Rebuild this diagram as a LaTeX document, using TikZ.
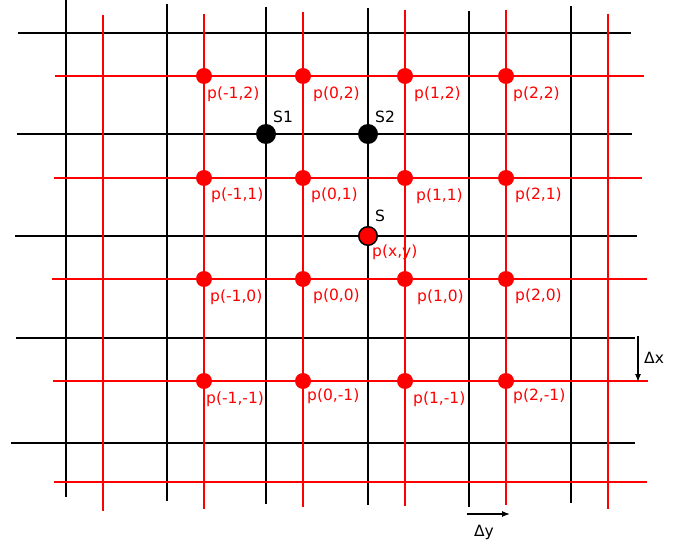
\documentclass[tikz,border=0pt]{standalone}
\usepackage{fontspec}
\setmainfont{DejaVu Sans}
\usetikzlibrary{arrows.meta}
\begin{document}
\begin{tikzpicture}[x=1pt,y=-1pt,
  blk/.style={line width=2.8pt,black},
  rd/.style={line width=1.1pt,red},
  rdot/.style={circle,fill=red,inner sep=0pt,minimum size=16pt},
  bdot/.style={circle,fill=black,inner sep=0pt,minimum size=20pt},
  sdot/.style={circle,fill=red,draw=black,line width=1.5pt,inner sep=0pt,minimum size=18.5pt},
  txt/.style={font=\fontsize{15.5}{18}\selectfont,inner sep=0pt,anchor=west},
  rtxt/.style={txt,text=red},
  arr/.style={line width=1.2pt,-{Latex[length=8pt,width=6pt]}}]
\useasboundingbox (0,0) rectangle (688,545);
% black grid
\foreach \x/\a/\b in {66/0/497,167/4/501,266/7/504,368/8/505,469/11/507,571/6/503}
  \draw[blk] (\x,\a) -- (\x,\b);
\foreach \y/\a/\b in {33/18/631,134/17/632,236/15/637,338/16/635,443/11/635}
  \draw[blk] (\a,\y) -- (\b,\y);
% red grid
\foreach \x/\a/\b in {103/15/511,204/14/509,303/12/507,405/10/506,506/10/505,608/14/509}
  \draw[rd] (\x,\a) -- (\x,\b);
\foreach \y/\a/\b in {76/55/644,178/54/642,279/52/647,381/53/648,482/54/647}
  \draw[rd] (\a,\y) -- (\b,\y);
% red dots
\foreach \x/\i in {204/m1,303/0,405/1,506/2}
  \foreach \y/\j in {76/2,178/1,279/0,381/m1}
    \node[rdot] (p\i\j) at (\x,\y) {};
% labels
\node[rtxt] (l1) at (207,94) {p(-1,2)};
\node[rtxt] (l2) at (313,94) {p(0,2)};
\node[rtxt] (l3) at (414,94) {p(1,2)};
\node[rtxt] (l4) at (513,94) {p(2,2)};
\node[rtxt] (l5) at (211,195) {p(-1,1)};
\node[rtxt] (l6) at (311,195) {p(0,1)};
\node[rtxt] (l7) at (416,196) {p(1,1)};
\node[rtxt] (l8) at (515,195) {p(2,1)};
\node[rtxt] (l9) at (210,297) {p(-1,0)};
\node[rtxt] (l10) at (313,296) {p(0,0)};
\node[rtxt] (l11) at (417,297) {p(1,0)};
\node[rtxt] (l12) at (515,296) {p(2,0)};
\node[rtxt] (l13) at (206,399) {p(-1,-1)};
\node[rtxt] (l14) at (307,396) {p(0,-1)};
\node[rtxt] (l15) at (413,399) {p(1,-1)};
\node[rtxt] (l16) at (513,396) {p(2,-1)};
% S points
\node[bdot] (S1) at (266,134) {};
\node[bdot] (S2) at (368,134) {};
\node[sdot] (S) at (368,236) {};
\node[txt] (tS1) at (273,117) {S1};
\node[txt] (tS2) at (375,117) {S2};
\node[txt] (tS) at (375,216) {S};
\node[rtxt] (tp) at (372,252) {p(x,y)};
% delta arrows
\coordinate (dxa) at (638,336);
\coordinate (dxb) at (638,382);
\draw[arr] (dxa) -- (dxb);
\node[txt] (tdx) at (644,358) {Δx};
\coordinate (dya) at (467,514);
\coordinate (dyb) at (510,514);
\draw[arr] (dya) -- (dyb);
\node[txt,anchor=center] (tdy) at (484,532) {Δy};
\end{tikzpicture}
\end{document}
